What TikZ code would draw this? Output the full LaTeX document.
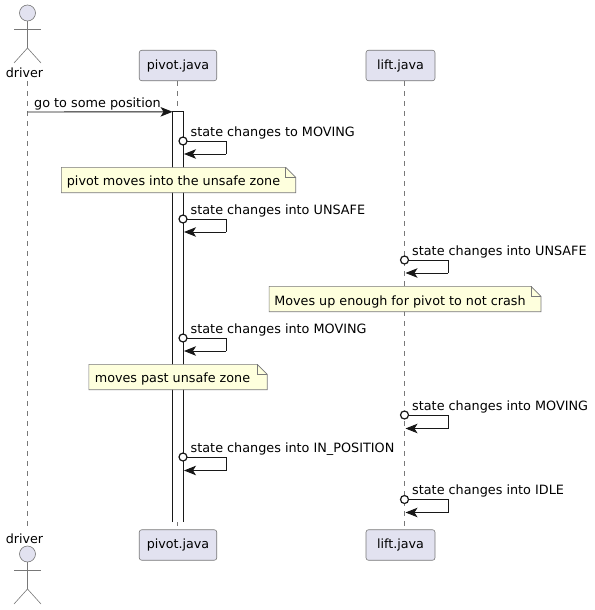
\documentclass[tikz,border=0pt]{standalone}
\usepackage{fontspec}
\setmainfont{DejaVu Sans}
\usepackage{xcolor}
\usepackage{tikz}
\usetikzlibrary{arrows.meta,calc}
\definecolor{cPart}{HTML}{E2E2F0}
\definecolor{cEdge}{HTML}{787878}
\definecolor{cNote}{HTML}{FEFFDD}
\definecolor{cLine}{HTML}{181818}
\tikzset{
  partblk/.style={draw=cEdge, line width=0.6pt, rounded corners=2.5pt, fill=cPart,
                  minimum height=30.5pt, inner sep=0pt},
  partlbl/.style={font=\fontsize{12.7}{15}\selectfont, text=black, inner sep=0pt},
  actlbl/.style={font=\fontsize{12.7}{15}\selectfont, text=black, inner sep=0pt, anchor=base},
  head/.style={circle, draw=cEdge, line width=0.6pt, fill=cPart, minimum size=16pt, inner sep=0pt},
  limb/.style={draw=cEdge, line width=0.6pt},
  life/.style={draw=cEdge, line width=0.6pt, dash pattern=on 5pt off 5pt},
  msg/.style={cLine, line width=0.9pt},
  arr/.style={msg, -{Stealth[inset=3pt, length=12pt, width=9.5pt]}},
  dot/.style={circle, draw=cLine, line width=1.2pt, fill=white, minimum size=8pt, inner sep=0pt},
  lbl/.style={font=\fontsize{12.8}{15}\selectfont, text=black, inner sep=0pt, anchor=base west},
  noteblk/.style={inner sep=0pt, minimum height=25pt},
  notelbl/.style={font=\fontsize{12.75}{15}\selectfont, text=black, inner sep=0pt, anchor=base}
}
% self message: name, lifeline x, y start, y end, end x, text
\newcommand{\selfmsg}[6]{
  \coordinate (#1a) at (#5,#3);
  \coordinate (#1b) at (#5,#4);
  \coordinate (#1e) at (#2,#4);
  \draw[msg] (#1s) -- (#1a) -- (#1b);
  \draw[arr] (#1b) -- (#1e);
  \node[dot] at (#1s) {};
  \node[lbl] (#1t) at ($(#1s)+(7.5,-5)$) {#6};
}
% note outline with folded corner
\newcommand{\notefold}[1]{
  \fill[cNote] (#1.north west) -- ($(#1.north east)+(-10,0)$) -- ($(#1.north east)+(0,10)$)
    -- (#1.south east) -- (#1.south west) -- cycle;
  \draw[limb] (#1.north west) -- ($(#1.north east)+(-10,0)$) -- ($(#1.north east)+(0,10)$)
    -- (#1.south east) -- (#1.south west) -- cycle;
  \draw[limb] ($(#1.north east)+(-10,0)$) -- ($(#1.north east)+(-10,10)$) -- ($(#1.north east)+(0,10)$);
}

\begin{document}
\begin{tikzpicture}[x=1pt, y=-1pt]
\useasboundingbox (0,0) rectangle (594,610);
% heads of the lifelines
\node[head] (driverhead) at (27.5,13) {};
\coordinate (drivergroin) at (27.5,48);
\coordinate (driverarml) at (14,29);
\coordinate (driverarmr) at (41,29);
\coordinate (driverlegl) at (14,63);
\coordinate (driverlegr) at (41,63);
\draw[limb] (driverhead.south) -- (drivergroin);
\draw[limb] (driverarml) -- (driverarmr);
\draw[limb] (driverlegl) -- (drivergroin) -- (driverlegr);
\node[actlbl] (drivertop) at (24.5,77.5) {driver};
\node[partblk, minimum width=77.5pt] (pivottop) at (178,65.5) {};
\node[partlbl] at (pivottop) {pivot.java};
\node[partblk, minimum width=69pt] (lifttop) at (400.5,65.5) {};
\node[partlbl] at (lifttop) {lift.java};
% feet of the lifelines
\node[actlbl] (driverbot) at (24.5,543) {driver};
\node[head] (driverheadb) at (27.5,554) {};
\coordinate (drivergroinb) at (27.5,589);
\coordinate (driverarmlb) at (14,570);
\coordinate (driverarmrb) at (41,570);
\coordinate (driverleglb) at (14,604);
\coordinate (driverlegrb) at (41,604);
\draw[limb] (driverheadb.south) -- (drivergroinb);
\draw[limb] (driverarmlb) -- (driverarmrb);
\draw[limb] (driverleglb) -- (drivergroinb) -- (driverlegrb);
\node[partblk, minimum width=77.5pt] (pivotbot) at (178,545) {};
\node[partlbl] at (pivotbot) {pivot.java};
\node[partblk, minimum width=69pt] (liftbot) at (400.5,545) {};
\node[partlbl] at (liftbot) {lift.java};
% lifelines
\coordinate (driverfrom) at (27.5,81);
\coordinate (driverto) at (27.5,527);
\coordinate (pivotfrom) at (177.5,81);
\coordinate (pivotto) at (177.5,529);
\coordinate (liftfrom) at (404.5,81);
\coordinate (liftto) at (404.5,529);
\draw[life] (driverfrom) -- (driverto);
\draw[life] (pivotfrom) -- (pivotto);
\draw[life] (liftfrom) -- (liftto);
% activation bar, open at the bottom
\node[fill=white, minimum width=10.5pt, minimum height=410pt, inner sep=0pt] (bar) at (178,317) {};
\draw[cLine, line width=0.9pt] (bar.south west) -- (bar.north west) -- (bar.north east) -- (bar.south east);
% messages
\coordinate (go) at (27.5,112);
\draw[arr] (go) -- (bar.north west);
\node[lbl] (gotext) at (34,107) {go to some position};
\coordinate (s1s) at (183,141);
\selfmsg{s1}{184}{141}{154}{226}{state changes to MOVING}
\node[noteblk, minimum width=234pt] (note1) at (178.5,180) {};
\notefold{note1}
\node[notelbl] at (173.5,185.5) {pivot moves into the unsafe zone};
\coordinate (s2s) at (183,219);
\selfmsg{s2}{184}{219}{232}{226}{state changes into UNSAFE}
\coordinate (s3s) at (404.5,260);
\selfmsg{s3}{405.5}{260}{273}{448}{state changes into UNSAFE}
\node[noteblk, minimum width=271.5pt] (note2) at (405,299) {};
\notefold{note2}
\node[notelbl] at (400,305) {Moves up enough for pivot to not crash};
\coordinate (s4s) at (183,338);
\selfmsg{s4}{184}{338}{351}{226}{state changes into MOVING}
\node[noteblk, minimum width=178pt] (note3) at (178,377) {};
\notefold{note3}
\node[notelbl] at (172.5,382.5) {moves past unsafe zone};
\coordinate (s5s) at (404.5,415);
\selfmsg{s5}{405.5}{415}{428.5}{448}{state changes into MOVING}
\coordinate (s6s) at (183,457);
\selfmsg{s6}{184}{457}{470.5}{226}{state changes into IN\_POSITION}
\coordinate (s7s) at (404.5,499.5);
\selfmsg{s7}{405.5}{499.5}{512.5}{448}{state changes into IDLE}
\end{tikzpicture}
\end{document}
